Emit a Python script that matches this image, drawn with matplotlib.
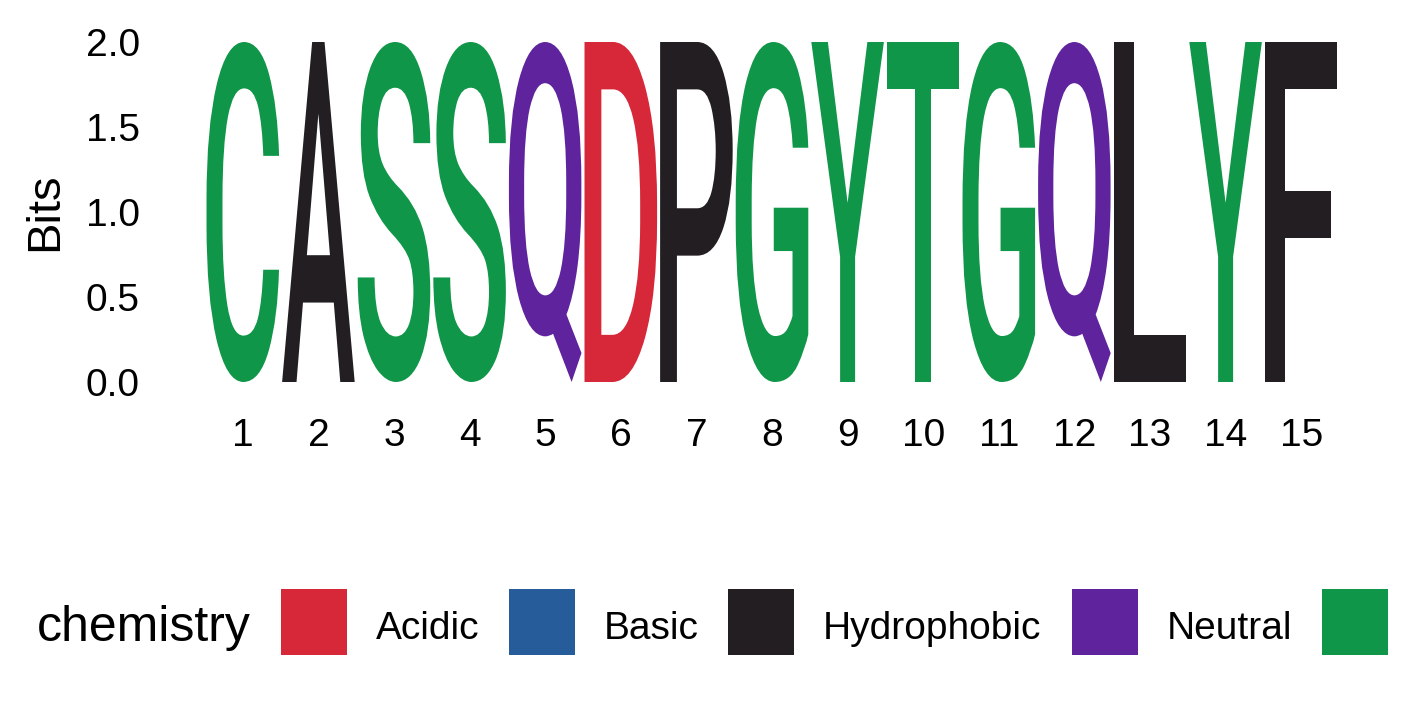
import matplotlib
matplotlib.use("Agg")
import matplotlib.pyplot as plt
from matplotlib.textpath import TextPath
from matplotlib.font_manager import FontProperties
from matplotlib.patches import PathPatch, Rectangle
from matplotlib.transforms import Affine2D

plt.rcParams["font.family"] = ["Liberation Sans", "DejaVu Sans"]

# sequence logo data: one letter per position, each at full information content
positions = list(range(1, 16))
letters = ["C", "A", "S", "S", "Q", "D", "P", "G", "Y", "T", "G", "Q", "L", "Y", "F"]
bits = [2.0, 2.0, 2.0, 2.0, 2.0, 2.0, 2.0, 2.0, 2.0, 2.0, 2.0, 2.0, 2.0, 2.0, 2.0]

groups = ["Acidic", "Basic", "Hydrophobic", "Neutral", "Polar"]
group_colors = ["#D62839", "#255C99", "#221E22", "#5E239D", "#109648"]
group_members = ["DE", "KRH", "AVLIPWFM", "QN", "GSTYC"]

color_of = {}
for members, col in zip(group_members, group_colors):
    for aa in members:
        color_of[aa] = col

W, H = 1417, 708
fig = plt.figure(figsize=(W / 100, H / 100), dpi=100)
ax = fig.add_axes([205 / W, 1 - 382 / H, 1134 / W, 340 / H])
ax.set_xlim(0.5, 15.5)
ax.set_ylim(0, 2)

letter_font = FontProperties(family="Roboto", weight="medium")
width = 0.96
for pos, ch, h in zip(positions, letters, bits):
    tp = TextPath((0, 0), ch, size=1, prop=letter_font)
    ext = tp.get_extents()
    tr = (Affine2D()
          .translate(-ext.x0, -ext.y0)
          .scale(width / ext.width, h / ext.height)
          .translate(pos - width / 2, 0))
    ax.add_patch(PathPatch(tr.transform_path(tp), facecolor=color_of[ch],
                           edgecolor="none", clip_on=False))

for s in ax.spines.values():
    s.set_visible(False)
ax.set_xticks(positions)
ax.set_xticklabels([str(p) for p in positions])
ax.set_yticks([0, 0.5, 1.0, 1.5, 2.0])
ax.set_yticklabels(["0.0", "0.5", "1.0", "1.5", "2.0"])
ax.tick_params(axis="x", length=0, pad=26, labelsize=28)
ax.tick_params(axis="y", length=0, pad=47, labelsize=28)

fig.text(45 / W, 1 - 212 / H, "Bits", rotation=90, ha="center", va="center", fontsize=34)

# legend along the bottom
fig.text(37 / W, 1 - 641 / H, "chemistry", ha="left", va="baseline", fontsize=36)
key_left = [281, 509, 728, 1072, 1322]
label_left = [376, 604, 823, 1167, 1420]
for g, col, kx, lx in zip(groups, group_colors, key_left, label_left):
    fig.patches.append(Rectangle((kx / W, 1 - 655 / H), 66 / W, 66 / H,
                                 transform=fig.transFigure, facecolor=col,
                                 edgecolor="none"))
    fig.text(lx / W, 1 - 639 / H, g, ha="left", va="baseline", fontsize=28)

fig.savefig("out.png", dpi=100)
